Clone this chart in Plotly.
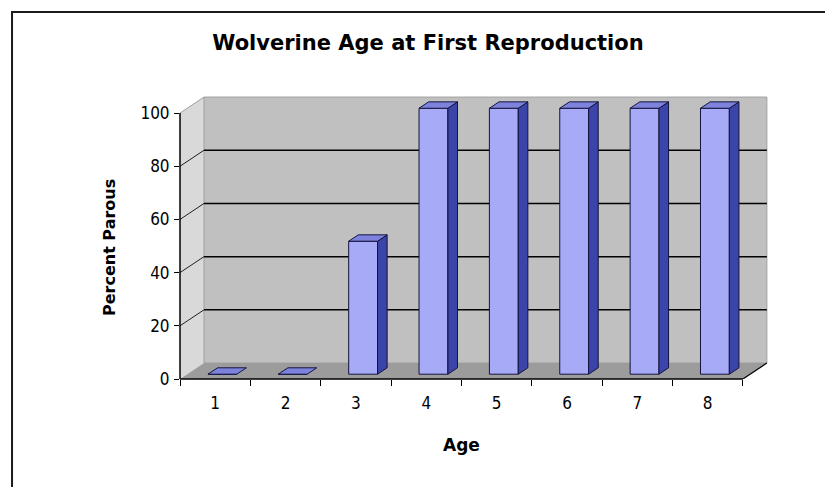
import plotly.graph_objects as go

# ---------------- data ----------------
ages = [1, 2, 3, 4, 5, 6, 7, 8]
age_labels = ["1", "2", "3", "4", "5", "6", "7", "8"]
percent_parous = [0, 0, 50, 100, 100, 100, 100, 100]
y_ticks = [0, 20, 40, 60, 80, 100]
title_text = "Wolverine Age at First Reproduction"
x_title = "Age"
y_title = "Percent Parous"

# ---------------- geometry (pixels, page coords) ----------------
OFF = 8                           # browser body margin
W, H = 833 - OFF, 487 - OFF       # figure size
FRONT_L, FRONT_R = 180 - OFF, 743 - OFF
Y0_PX, Y100_PX = 379 - OFF, 113 - OFF
DEPTH_DX_PX, DEPTH_DY_PX = 24, 16

n = len(ages)
ppx = (FRONT_R - FRONT_L) / n
ppy = (Y0_PX - Y100_PX) / 100.0
DX = DEPTH_DX_PX / ppx
DY = DEPTH_DY_PX / ppy

x_lo = ages[0] - 0.5
x_hi_front = ages[-1] + 0.5
y_max_val = y_ticks[-1]
x_range = [x_lo, x_hi_front + DX + 0.03]
y_range = [0, y_max_val + DY + 0.4]

plot_w = (x_range[1] - x_range[0]) * ppx
plot_h = (y_range[1] - y_range[0]) * ppy
m_l = FRONT_L
m_r = W - FRONT_L - plot_w
m_b = H - Y0_PX
m_t = Y0_PX - plot_h

# colours
C_BACK = "#c0c0c0"
C_LEFT = "#d9d9d9"
C_FLOOR = "#9c9c9c"
C_EDGE = "#a0a0a0"
C_FRONT = "#a6aaf7"
C_SIDE = "#3b44a8"
C_TOP = "#7d83dc"
C_OUT = "#14143c"

shapes = []
def poly(pts, fill, line_color=None, lw=0, layer="below"):
    path = "M " + " L ".join(f"{x},{y}" for x, y in pts) + " Z"
    shapes.append(dict(type="path", path=path, xref="x", yref="y", fillcolor=fill,
                       line=dict(color=line_color or fill, width=lw), layer=layer))

def seg(x0, y0, x1, y1, color, lw, layer="below", xref="x", yref="y"):
    shapes.append(dict(type="line", x0=x0, y0=y0, x1=x1, y1=y1, xref=xref, yref=yref,
                       line=dict(color=color, width=lw), layer=layer))

# walls and floor
poly([(x_lo, 0), (x_lo + DX, DY), (x_lo + DX, y_max_val + DY), (x_lo, y_max_val)], C_LEFT)
poly([(x_lo + DX, DY), (x_hi_front + DX, DY), (x_hi_front + DX, y_max_val + DY),
      (x_lo + DX, y_max_val + DY)], C_BACK, C_EDGE, 1)
poly([(x_lo, 0), (x_hi_front, 0), (x_hi_front + DX, DY), (x_lo + DX, DY)], C_FLOOR)

# gridlines
for t in y_ticks[1:-1]:
    seg(x_lo + DX, t + DY, x_hi_front + DX, t + DY, "#000000", 1.5)
    seg(x_lo, t, x_lo + DX, t + DY, "#202020", 1)
seg(x_lo, y_max_val, x_lo + DX, y_max_val + DY, C_EDGE, 1)

# front axes and right floor edge
seg(x_lo, 0, x_hi_front, 0, "#000000", 1.5, layer="above", yref="paper")
seg(0, 0, 0, y_max_val, "#000000", 1.5, layer="above", xref="paper")
seg(x_hi_front, 0, x_hi_front + DX, DY, "#000000", 1.2, layer="above")

# frame around chart (left/top edges visible)
fx0 = (12 - OFF - FRONT_L) / plot_w
fx1 = (W + 30 - FRONT_L) / plot_w
fy_top = (Y0_PX - (12 - OFF)) / plot_h
fy_bot = (Y0_PX - (H + 30)) / plot_h
shapes.append(dict(type="rect", xref="paper", yref="paper", x0=fx0, x1=fx1, y0=fy_bot, y1=fy_top,
                   line=dict(color="#1a1a1a", width=2), fillcolor="rgba(0,0,0,0)", layer="above"))

# ---------------- bars (3D) ----------------
F0, F1 = 0.30, 0.70      # depth fractions of bar front/back
HW = 0.205               # half width in category units

fig = go.Figure()
fig.add_trace(go.Bar(
    x=[a + F0 * DX for a in ages], y=percent_parous, base=[F0 * DY] * n,
    width=[2 * HW] * n, marker=dict(color=C_FRONT, line=dict(color=C_OUT, width=1)),
    hoverinfo="skip", showlegend=False))

sx, sy, tx, ty = [], [], [], []
for a, v in zip(ages, percent_parous):
    xr0, xr1 = a + HW + F0 * DX, a + HW + F1 * DX
    xl0, xl1 = a - HW + F0 * DX, a - HW + F1 * DX
    y0f, y0b = F0 * DY, F1 * DY
    if v > 0:
        sx += [xr0, xr1, xr1, xr0, xr0, None]
        sy += [y0f, y0b, v + y0b, v + y0f, y0f, None]
    tx += [xl0, xr0, xr1, xl1, xl0, None]
    ty += [v + y0f, v + y0f, v + y0b, v + y0b, v + y0f, None]

fig.add_trace(go.Scatter(x=sx, y=sy, mode="lines", fill="toself", fillcolor=C_SIDE,
                         line=dict(color=C_OUT, width=1), hoverinfo="skip", showlegend=False))
fig.add_trace(go.Scatter(x=tx, y=ty, mode="lines", fill="toself", fillcolor=C_TOP,
                         line=dict(color=C_OUT, width=1), hoverinfo="skip", showlegend=False))

tick_font = dict(family="Liberation Sans Narrow, DejaVu Sans Condensed, Arial Narrow, sans-serif",
                 size=17, color="#000000")
bold_font = "DejaVu Sans, Verdana, sans-serif"

fig.update_layout(
    width=W, height=H,
    margin=dict(l=m_l, r=m_r, t=m_t, b=m_b, pad=0),
    paper_bgcolor="#ffffff", plot_bgcolor="rgba(0,0,0,0)",
    showlegend=False,
    shapes=shapes,
    title=dict(text=f"<b>{title_text}</b>", font=dict(family=bold_font, size=21, color="#000"),
               x=(428 - OFF) / W, xanchor="center", xref="container",
               y=1 - (43 - OFF) / H, yanchor="middle", yref="container"),
    xaxis=dict(range=x_range, tickvals=ages, ticktext=age_labels, ticks="",
               showgrid=False, zeroline=False, showline=False, tickfont=tick_font,
               ticklabelstandoff=12,
               minor=dict(tickvals=[a - 0.5 for a in ages] + [ages[-1] + 0.5], ticks="outside",
                          ticklen=6, tickcolor="#000", tickwidth=1.2, showgrid=False)),
    yaxis=dict(range=y_range, tickvals=y_ticks, ticks="outside", ticklen=5, tickcolor="#000",
               tickwidth=1.2, showgrid=False, zeroline=False, showline=False, tickfont=tick_font,
               ticklabelstandoff=1),
    annotations=[
        dict(text=f"<b>{x_title}</b>", xref="paper", yref="paper",
             x=(462 - OFF - FRONT_L) / plot_w, y=(Y0_PX - (445 - OFF)) / plot_h, showarrow=False,
             xanchor="center", yanchor="middle", font=dict(family=bold_font, size=17, color="#000")),
        dict(text=f"<b>{y_title}</b>", xref="paper", yref="paper",
             x=(109 - OFF - FRONT_L) / plot_w, y=(Y0_PX - (248 - OFF)) / plot_h, showarrow=False,
             textangle=-90, xanchor="center", yanchor="middle",
             font=dict(family=bold_font, size=16, color="#000")),
    ],
)

fig.write_html("out.html")
